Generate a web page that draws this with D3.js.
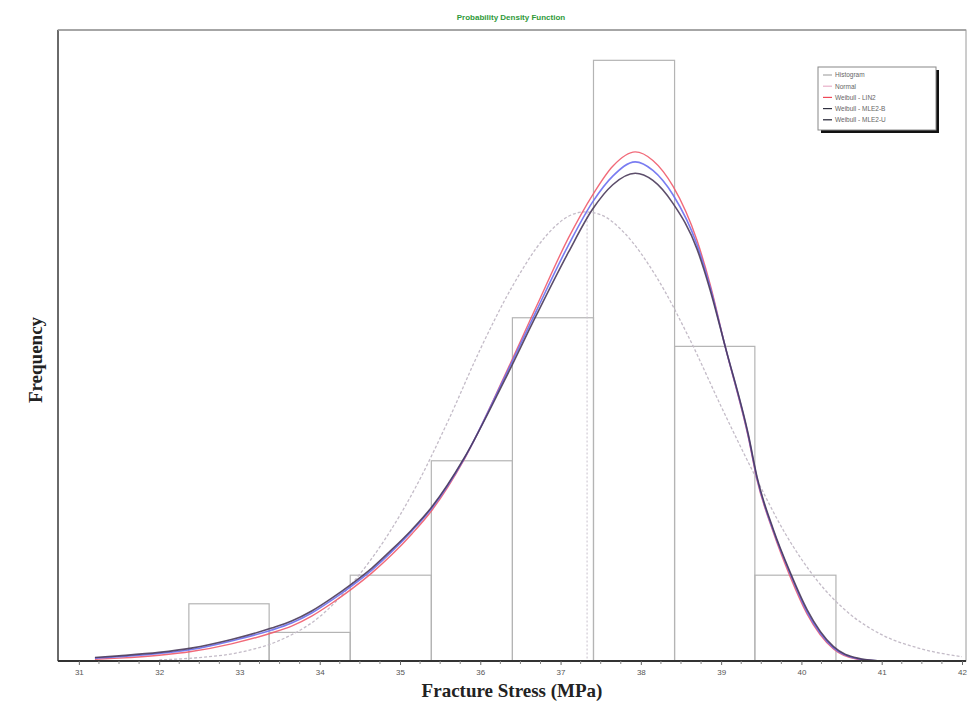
<!DOCTYPE html>
<html>
<head>
<meta charset="utf-8">
<script src="https://cdn.jsdelivr.net/npm/d3@7/dist/d3.min.js"></script>
<style>
  html, body { margin: 0; padding: 0; background: #fff; }
  svg { display: block; }
</style>
</head>
<body>
<svg id="chart" width="977" height="707"></svg>
<script>
// ---------------- DATA ----------------
const title = "Probability Density Function";
const xLabel = "Fracture Stress (MPa)";
const yLabel = "Frequency";

const xTicks = [31, 32, 33, 34, 35, 36, 37, 38, 39, 40, 41, 42];

// histogram bin edges and counts
const binEdges = [32.37, 33.37, 34.38, 35.39, 36.40, 37.41, 38.42, 39.42, 40.43];
const binCounts = [2, 1, 3, 7, 12, 21, 11, 3];

// normal fit (values in frequency units)
const normalX = [32.0, 32.5, 33.0, 33.5, 34.0, 34.4, 34.8, 35.2, 35.6, 36.0, 36.4, 36.8, 37.1, 37.3, 37.5, 37.8, 38.2, 38.6, 39.0, 39.4, 39.8, 40.2, 40.6, 41.0, 41.5, 42.0];
const normalY = [0.04, 0.12, 0.30, 0.72, 1.55, 2.7, 4.2, 6.1, 8.4, 10.9, 13.1, 14.8, 15.55, 15.7, 15.6, 14.95, 13.4, 11.3, 8.9, 6.6, 4.45, 2.8, 1.65, 0.92, 0.42, 0.15];
const normalMean = 37.33;

// Weibull fits (frequency units)
const weibullX = [31.2, 31.5, 32.0, 32.4, 32.9, 33.4, 33.65, 33.9, 34.15, 34.4, 34.65, 34.9, 35.15, 35.4, 35.8, 36.3, 36.7, 37.1, 37.4, 37.65, 37.93, 38.15, 38.4, 38.7, 38.86, 39.05, 39.34, 39.45, 39.65, 39.86, 40.07, 40.4, 40.7, 40.98];
const lin2Y  = [0.06, 0.10, 0.20, 0.33, 0.60, 0.98, 1.22, 1.57, 2.02, 2.52, 3.08, 3.72, 4.45, 5.28, 7.05, 9.95, 12.40, 14.80, 16.30, 17.30, 17.80, 17.50, 16.60, 14.70, 13.20, 11.00, 7.80, 6.30, 4.50, 2.95, 1.65, 0.42, 0.06, 0.0];
const mle2bY = [0.10, 0.15, 0.26, 0.40, 0.70, 1.08, 1.33, 1.68, 2.13, 2.63, 3.18, 3.83, 4.55, 5.36, 7.08, 9.90, 12.25, 14.55, 16.05, 16.95, 17.45, 17.15, 16.30, 14.55, 13.10, 11.00, 7.85, 6.35, 4.55, 3.05, 1.72, 0.46, 0.08, 0.0];
const mle2uY = [0.12, 0.18, 0.30, 0.45, 0.75, 1.15, 1.40, 1.75, 2.20, 2.70, 3.25, 3.90, 4.60, 5.40, 7.10, 9.80, 12.10, 14.30, 15.80, 16.65, 17.05, 16.80, 16.00, 14.40, 13.00, 11.00, 7.90, 6.40, 4.60, 3.10, 1.80, 0.50, 0.10, 0.0];

const legendNames = ["Histogram", "Normal", "Weibull - LIN2", "Weibull - MLE2-B", "Weibull - MLE2-U"];
const legendColors = ["#a8a8a8", "#e8b0c8", "#f04858", "#303040", "#202030"];

// ---------------- CHART ----------------
const svg = d3.select("#chart");
const L = 58, R = 966, T = 30, B = 661;

const x = d3.scaleLinear().domain([30.74, 42.05]).range([L, R]);
const y = d3.scaleLinear().domain([0, 22.06]).range([B, T]);

// title
svg.append("text")
  .attr("x", 511).attr("y", 20)
  .attr("text-anchor", "middle")
  .attr("font-family", "Liberation Sans, Arial, sans-serif")
  .attr("font-size", 8).attr("font-weight", "bold")
  .attr("fill", "#2f9a3a")
  .text(title);

// frame
svg.append("rect")
  .attr("x", L).attr("y", T).attr("width", R - L).attr("height", B - T)
  .attr("fill", "#fff").attr("stroke", "#9a9a9a").attr("stroke-width", 1);
svg.append("line").attr("x1", L).attr("x2", L).attr("y1", T).attr("y2", B)
  .attr("stroke", "#6a6a6a").attr("stroke-width", 2);
svg.append("line").attr("x1", L).attr("x2", R).attr("y1", T).attr("y2", T)
  .attr("stroke", "#9a9a9a").attr("stroke-width", 1.5);

// histogram
const bins = binCounts.map((c, i) => ({ x0: binEdges[i], x1: binEdges[i + 1], c }));
svg.append("g").selectAll("rect").data(bins).join("rect")
  .attr("x", d => x(d.x0)).attr("y", d => y(d.c))
  .attr("width", d => x(d.x1) - x(d.x0)).attr("height", d => y(0) - y(d.c))
  .attr("fill", "none").attr("stroke", "#b4b4b4").attr("stroke-width", 1.2);

// normal
const normalPts = normalX.map((v, i) => [v, normalY[i]]);
const line = d3.line().x(d => x(d[0])).y(d => y(d[1])).curve(d3.curveMonotoneX);
svg.append("path").datum(normalPts).attr("d", line)
  .attr("fill", "none").attr("stroke", "#c4bcc8").attr("stroke-width", 1.3)
  .attr("stroke-dasharray", "3,2");
// mean marker
svg.append("line")
  .attr("x1", x(normalMean)).attr("x2", x(normalMean))
  .attr("y1", y(15.68)).attr("y2", y(0))
  .attr("stroke", "#c8c0cc").attr("stroke-width", 1).attr("stroke-dasharray", "2,2");

// Weibull curves
const series = [
  { vals: lin2Y, color: "#f05a6a", w: 1.4 },
  { vals: mle2bY, color: "#6a6ef0", w: 1.6 },
  { vals: mle2uY, color: "#4a3a5a", w: 1.6 }
];
series.forEach(s => {
  const pts = weibullX.map((v, i) => [v, s.vals[i]]);
  svg.append("path").datum(pts).attr("d", line)
    .attr("fill", "none").attr("stroke", s.color).attr("stroke-width", s.w)
    .attr("stroke-opacity", 0.9);
});

// x axis
svg.append("line").attr("x1", L).attr("x2", R).attr("y1", B).attr("y2", B)
  .attr("stroke", "#333").attr("stroke-width", 2);
const axis = d3.axisBottom(x).tickValues(xTicks).tickSize(4).tickFormat(d3.format("d"));
const gx = svg.append("g").attr("transform", `translate(0,${B})`).call(axis);
gx.select(".domain").remove();
gx.selectAll(".tick line").attr("stroke", "#666");
gx.selectAll(".tick text")
  .attr("font-family", "Liberation Sans, Arial, sans-serif")
  .attr("font-size", 8).attr("fill", "#555").attr("dy", "0.9em");
const minor = d3.range(31, 42.001, 0.25).filter(v => Math.abs(v - Math.round(v)) > 0.01);
svg.append("g").selectAll("line").data(minor).join("line")
  .attr("x1", d => x(d)).attr("x2", d => x(d))
  .attr("y1", B).attr("y2", B + 3)
  .attr("stroke", "#888").attr("stroke-width", 1);

// axis titles
svg.append("text")
  .attr("x", 512).attr("y", 697)
  .attr("text-anchor", "middle")
  .attr("font-family", "Liberation Serif, Times New Roman, serif")
  .attr("font-size", 19).attr("font-weight", "bold").attr("fill", "#222")
  .text(xLabel);
svg.append("text")
  .attr("transform", "translate(42,360) rotate(-90)")
  .attr("text-anchor", "middle")
  .attr("font-family", "Liberation Serif, Times New Roman, serif")
  .attr("font-size", 19).attr("font-weight", "bold").attr("fill", "#222")
  .text(yLabel);

// legend
const lg = svg.append("g").attr("transform", "translate(818,67)");
lg.append("rect").attr("x", 3).attr("y", 3).attr("width", 118).attr("height", 63).attr("fill", "#111");
lg.append("rect").attr("x", 0).attr("y", 0).attr("width", 118).attr("height", 63)
  .attr("fill", "#fff").attr("stroke", "#888").attr("stroke-width", 1);
legendNames.forEach((n, i) => {
  const yy = 8 + i * 11.2;
  lg.append("line").attr("x1", 5).attr("x2", 14).attr("y1", yy).attr("y2", yy)
    .attr("stroke", legendColors[i]).attr("stroke-width", 1.2);
  lg.append("text").attr("x", 17).attr("y", yy + 2.3)
    .attr("font-family", "Liberation Sans, Arial, sans-serif")
    .attr("font-size", 6.5).attr("fill", "#666")
    .text(n);
});
</script>
</body>
</html>
